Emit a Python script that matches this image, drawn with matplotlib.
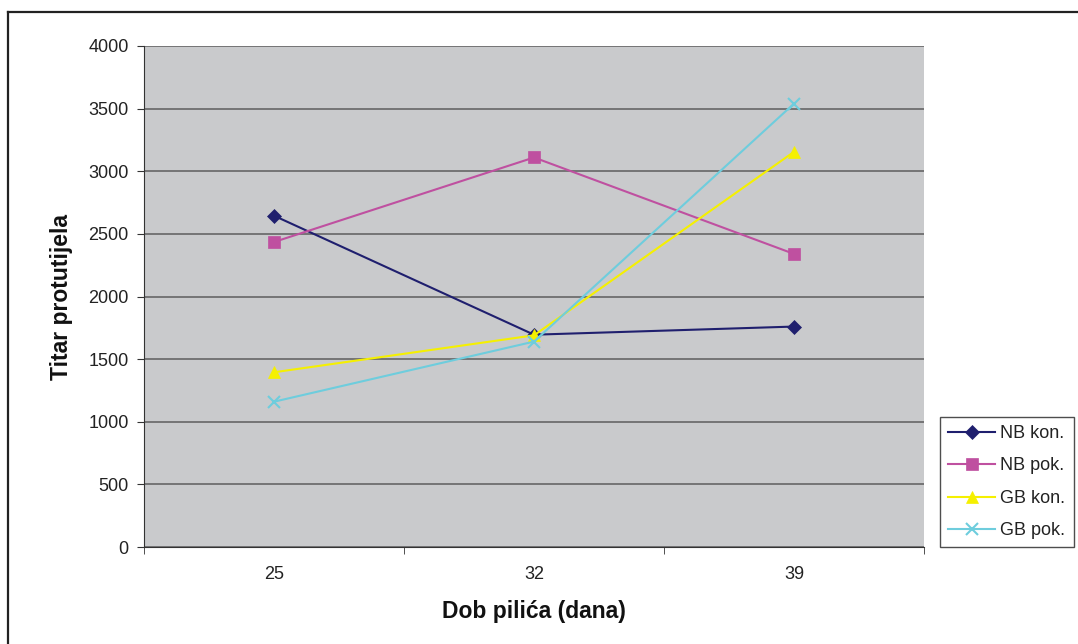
import matplotlib
matplotlib.use("Agg")
import matplotlib.pyplot as plt
from matplotlib.lines import Line2D
from matplotlib import font_manager

plt.rcParams['font.family'] = ['Liberation Sans', 'DejaVu Sans']

categories = ["25", "32", "39"]
series_names = ["NB kon.", "NB pok.", "GB kon.", "GB pok."]
nb_kon = [2645, 1695, 1760]
nb_pok = [2435, 3110, 2340]
gb_kon = [1395, 1690, 3155]
gb_pok = [1160, 1640, 3540]
y_ticks = [0, 500, 1000, 1500, 2000, 2500, 3000, 3500, 4000]

colors = ["#1F1F6E", "#BF50A0", "#F5F000", "#6ECDDD"]
markers = ["D", "s", "^", "x"]
msizes = [7.5, 8, 9, 9]

# locate regular-width Liberation Sans Bold
bold_path = None
for f in font_manager.fontManager.ttflist:
    if f.fname.endswith("LiberationSans-Bold.ttf"):
        bold_path = f.fname
        break
if bold_path:
    bold_fp = font_manager.FontProperties(fname=bold_path, size=16.5)
else:
    bold_fp = font_manager.FontProperties(family="Liberation Sans", weight="bold", size=16.5)

W, H = 1078, 644
fig = plt.figure(figsize=(W / 100, H / 100), dpi=100)
fig.patch.set_facecolor("white")

# outer frame (top and left)
fig.add_artist(Line2D([8 / W, 8 / W], [0, 1 - 12 / H], transform=fig.transFigure, color="#222222", lw=1.6))
fig.add_artist(Line2D([8 / W, 1], [1 - 12 / H, 1 - 12 / H], transform=fig.transFigure, color="#222222", lw=1.6))

left, right, top, bottom = 144, 924, 46, 547
ax = fig.add_axes([left / W, 1 - bottom / H, (right - left) / W, (bottom - top) / H])
ax.set_facecolor("#C9CACC")

x = list(range(len(categories)))
for vals, c, m, ms, name in zip([nb_kon, nb_pok, gb_kon, gb_pok], colors, markers, msizes, series_names):
    ax.plot(x, vals, color=c, lw=1.5, marker=m, markersize=ms, markeredgewidth=1.5 if m == "x" else 0.5,
            markeredgecolor=c, markerfacecolor=c, label=name, zorder=3)

ax.set_xlim(-0.5, len(categories) - 0.5)
ax.set_ylim(0, 4000)
ax.set_yticks(y_ticks)
ax.set_yticklabels([str(v) for v in y_ticks], fontsize=13, color="#222222")
ax.set_xticks(x)
ax.set_xticklabels(categories, fontsize=13, color="#222222")
ax.set_xticks([i - 0.5 for i in range(len(categories) + 1)], minor=True)
ax.tick_params(axis="x", which="major", length=0, pad=14)
ax.tick_params(axis="x", which="minor", length=5, direction="out", color="#333333")
ax.tick_params(axis="y", length=5, direction="out", color="#333333", pad=6)
ax.grid(axis="y", color="#666666", lw=1.2, zorder=1)
ax.set_axisbelow(True)
for s in ["top", "right"]:
    ax.spines[s].set_visible(False)
ax.spines["left"].set_color("#333333")
ax.spines["bottom"].set_color("#333333")

ax.set_ylabel("Titar protutijela", fontproperties=bold_fp, labelpad=11, color="#111111")
ax.set_xlabel("Dob pilića (dana)", fontproperties=bold_fp, labelpad=12, color="#111111")

leg = fig.legend(loc="upper left", bbox_to_anchor=(940 / W, 1 - 417 / H), frameon=True, fancybox=False,
                 fontsize=13, handlelength=2.6, borderpad=0.45, labelspacing=0.85, handletextpad=0.3,
                 borderaxespad=0)
leg.get_frame().set_edgecolor("#222222")
leg.get_frame().set_linewidth(1.0)
for t in leg.get_texts():
    t.set_color("#222222")

fig.savefig("out.png", dpi=100)
